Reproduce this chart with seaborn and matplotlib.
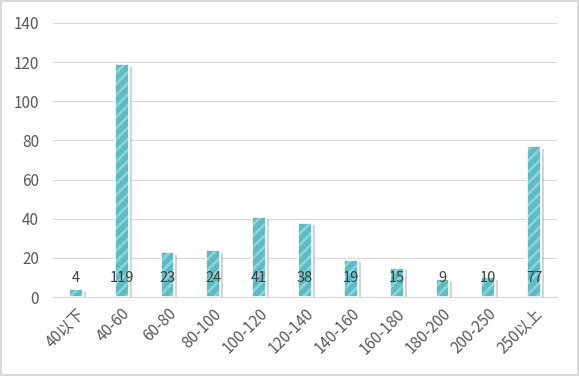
import matplotlib
matplotlib.use("Agg")
import matplotlib.pyplot as plt
import matplotlib.transforms as mtransforms
import seaborn as sns
import pandas as pd

categories = ["40以下", "40-60", "60-80", "80-100", "100-120", "120-140",
              "140-160", "160-180", "180-200", "200-250", "250以上"]
values = [4, 119, 23, 24, 41, 38, 19, 15, 9, 10, 77]
yticks = [0, 20, 40, 60, 80, 100, 120, 140]

sns.set_theme(style="white")
plt.rcParams['font.family'] = ['Noto Sans CJK SC', 'DejaVu Sans']
plt.rcParams['hatch.linewidth'] = 2.0

df = pd.DataFrame({"cat": categories, "val": values})

fig = plt.figure(figsize=(5.79, 3.76), dpi=100)
fig.patch.set_facecolor("white")
fig.patch.set_edgecolor("#d9d9d9")
fig.patch.set_linewidth(1.5)
ax = fig.add_axes([0.0915, 0.21, 0.8705, 0.729])

# soft shadow
sns.barplot(data=df, x="cat", y="val", ax=ax, width=0.3, color="#a0a0a0",
            saturation=1, linewidth=0, alpha=0.45, zorder=2)
shift = mtransforms.ScaledTranslation(2.2 / 72, -1.8 / 72, fig.dpi_scale_trans)
for p in ax.patches:
    p.set_transform(ax.transData + shift)

# main hatched bars
sns.barplot(data=df, x="cat", y="val", ax=ax, width=0.3, color="#5bbcc4",
            saturation=1, edgecolor="#8ed2d7", linewidth=0, hatch="///",
            zorder=3)

# white outline
sns.barplot(data=df, x="cat", y="val", ax=ax, width=0.3, fill=False,
            edgecolor="white", linewidth=1.2, zorder=4)

for i, v in enumerate(values):
    ax.text(i, 6.0, str(v), ha="center", va="bottom", fontsize=10.5,
            color="#404040", zorder=5)

ax.set_ylim(0, 140)
ax.set_xlim(-0.5, len(categories) - 0.5)
ax.set_yticks(yticks)
ax.set_yticklabels([str(t) for t in yticks], fontsize=11, color="#595959")
ax.set_xticklabels(categories, rotation=45, ha="right", rotation_mode="anchor",
                   fontsize=11, color="#595959")
ax.set_xlabel("")
ax.set_ylabel("")
ax.yaxis.grid(True, color="#d9d9d9", linewidth=0.8, zorder=0)
ax.set_axisbelow(True)
for s in ["top", "right", "left"]:
    ax.spines[s].set_visible(False)
ax.spines["bottom"].set_color("#d9d9d9")
ax.spines["bottom"].set_linewidth(0.8)
ax.tick_params(axis="y", length=0, pad=10)
ax.tick_params(axis="x", length=0, pad=6)

fig.savefig("out.png", dpi=100)
